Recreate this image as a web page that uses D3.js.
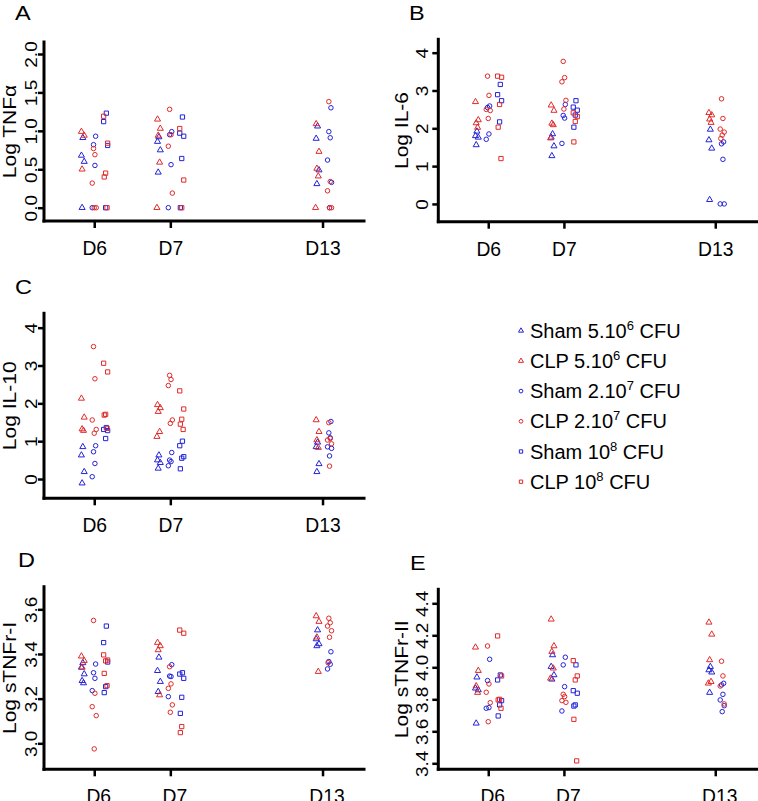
<!DOCTYPE html>
<html><head><meta charset="utf-8">
<script src="https://cdn.jsdelivr.net/npm/d3@7"></script>
<style>body{margin:0;background:#fff} svg{display:block} text{font-family:"Liberation Sans",Arial,sans-serif;fill:#000}</style>
</head><body><svg id="c" width="758" height="801"></svg>
<script>
// ---------- data ----------
const days = ["D6", "D7", "D13"];
const dayPositions = [1, 2, 4];
const groupLabels = ["Sham 5.10", "CLP 5.10", "Sham 2.10", "CLP 2.10", "Sham 10", "CLP 10"];
const groupExponents = ["6", "6", "7", "7", "8", "8"];
const groupShapes = ["triangle", "triangle", "circle", "circle", "square", "square"];
const groupSeries = ["sham", "clp", "sham", "clp", "sham", "clp"];

// order in each day: [Sham tri, CLP tri, Sham circle, CLP circle, Sham square, CLP square]
const tnfaD6 = [[0.91,0.68,0.60,0.00],[0.99,0.94,0.50],[0.93,0.82,0.55,0.00],[0.77,0.69,0.32,0.00,0.00],[1.23,1.12,0.81,0.00],[1.19,0.84,0.45,0.40,0.00]];
const tnfaD7 = [[0.92,0.86,0.75,0.46],[1.15,1.03,0.94,0.59,0.00],[0.99,0.95,0.56,0.00],[1.28,0.95,0.80,0.19],[1.18,0.97,0.93,0.64,0.00],[1.03,0.36,0.00]];
const tnfaD13 = [[1.06,0.90,0.49,0.31],[1.09,0.73,0.51,0.41,0.00],[1.30,0.99,0.91,0.62,0.33,0.00],[1.38,0.34,0.22,0.00,0.00],[],[]];

const il6D6 = [[1.92,1.80,1.76,1.56],[2.70,2.22,2.14,2.02],[2.59,2.55,1.85,1.71],[3.38,2.87,2.50,2.47,2.26],[3.16,2.89,2.73,2.17],[3.38,3.35,2.63,2.03,1.20]];
const il6D7 = [[1.85,1.76,1.53,1.27],[2.61,2.47,2.13,2.09,1.74],[2.63,2.34,2.27,1.60],[3.77,3.34,3.23,2.74,2.51],[2.73,2.56,2.48,2.35,2.03],[2.41,2.31,2.18,1.64]];
const il6D13 = [[1.97,1.69,1.47,0.11],[2.41,2.35,2.24,2.15],[1.64,1.59,1.18,0.00,0.00],[2.78,2.26,1.98,1.90,1.82,1.73],[],[]];

const il10D6 = [[0.85,0.63,0.19,-0.11],[2.13,1.63,1.32,1.28],[0.88,0.72,0.41,0.06],[3.50,2.65,1.56,1.31,1.21],[1.36,1.31,1.28,1.07],[3.06,2.83,1.71,1.69,1.34]];
const il10D7 = [[0.63,0.50,0.43,0.28],[1.96,1.88,1.78,1.25,1.12],[0.70,0.50,0.46,0.35],[2.74,2.63,2.47,1.56,1.47],[1.00,0.88,0.59,0.55,0.27],[2.33,1.85,1.58,1.45,1.31]];
const il10D13 = [[0.97,0.85,0.40,0.19],[1.56,1.25,1.03,0.83],[1.52,1.22,1.09,0.85,0.81,0.61],[1.49,1.07,1.03,0.93,0.34],[],[]];

const stnfr1D6 = [[3.36,3.34,3.31,3.28,3.27],[3.39,3.37,3.34],[3.355,3.316,3.291,3.236],[3.55,3.224,3.164,3.124,2.975],[3.525,3.451,3.364,3.254,3.227],[3.396,3.373,3.369,3.313,3.258]];
const stnfr1D7 = [[3.385,3.325,3.276,3.231],[3.451,3.436,3.418,3.216],[3.352,3.301,3.299,3.209],[3.343,3.266,3.246,3.172,3.139],[3.316,3.310,3.291,3.206,3.134],[3.507,3.493,3.075,3.048]];
const stnfr1D13 = [[3.507,3.467,3.445,3.436],[3.570,3.545,3.475,3.321],[3.410,3.366,3.354,3.333],[3.560,3.540,3.525,3.504,3.475,3.361],[],[]];

const stnfr2D6 = [[3.938,3.869,3.858,3.650],[4.125,3.979,3.883,3.842],[4.050,3.917,3.748,3.744],[4.133,3.896,3.844,3.779,3.660],[3.952,3.921,3.792,3.765,3.696],[4.196,3.946,3.800,3.796,3.744]];
const stnfr2D7 = [[4.077,4.004,3.952,3.925],[4.300,4.133,4.098,3.994,3.931],[4.063,4.015,3.879,3.727],[3.831,3.817,3.792,3.781],[4.015,3.854,3.838,3.765,3.758],[4.042,3.946,3.921,3.675,3.415]];
const stnfr2D13 = [[4.004,3.983,3.969,3.842],[4.281,4.206,4.046,3.910,3.900],[3.900,3.890,3.831,3.796,3.760,3.723],[4.038,3.946,3.883,3.771],[],[]];

const ticksA = [0, 0.5, 1, 1.5, 2];
const ticksB = [0, 1, 2, 3, 4];
const ticksC = [0, 1, 2, 3, 4];
const ticksD = [3.0, 3.2, 3.4, 3.6];
const ticksE = [3.4, 3.6, 3.8, 4.0, 4.2, 4.4];

// ---------- styles / layout ----------
const colors = {sham: "#2323d8", clp: "#e02a2a"};
const fullOffsets = [-0.15, 0, 0.15];     // tri, circle, square (D6, D7)
const d13Offsets = [-0.065, 0.092];        // tri, circle (D13)
const jitterPx = [0, -1.4, 1.4, -0.7, 0.7, -2, 2];
const xDomain = [0.34, 4.545];
const hs = 0.9; // horizontal squeeze of the original figure's text

const panels = [
  {letter:"A", title:"Log TNFα", data:[tnfaD6,tnfaD7,tnfaD13], ticks:ticksA, fmt:d3.format(".1f"),
   x0:44, x1:364, yTop:42, yBot:221, dom:[-0.173, 2.156], lx:15, ly:20, tl:7.5, ttl:28, xs:0},
  {letter:"B", title:"Log IL-6", data:[il6D6,il6D7,il6D13], ticks:ticksB, fmt:d3.format("d"),
   x0:438.3, x1:756.5, yTop:39.3, yBot:221.7, dom:[-0.47, 4.354], lx:409, ly:20, tl:10, ttl:30, xs:0},
  {letter:"C", title:"Log IL-10", data:[il10D6,il10D7,il10D13], ticks:ticksC, fmt:d3.format("d"),
   x0:44, x1:364, yTop:313.3, yBot:498.3, dom:[-0.51, 4.38], lx:15, ly:294, tl:7.5, ttl:28, xs:0},
  {letter:"D", title:"Log sTNFr-I", data:[stnfr1D6,stnfr1D7,stnfr1D13], ticks:ticksD, fmt:d3.format(".1f"),
   x0:44, x1:364, yTop:586.7, yBot:769.3, dom:[2.8836, 3.7013], lx:18, ly:567, tl:7.5, ttl:28, xs:4},
  {letter:"E", title:"Log sTNFr-II", data:[stnfr2D6,stnfr2D7,stnfr2D13], ticks:ticksE, fmt:d3.format(".1f"),
   x0:438.3, x1:756.5, yTop:589.3, yBot:769.3, dom:[3.3625, 4.4875], lx:410, ly:570, tl:10, ttl:30, xs:4}
];

const svg = d3.select("#c");
const symbolTypes = {triangle: d3.symbolTriangle, circle: d3.symbolCircle, square: d3.symbolSquare};
const symbolSizes = {triangle: 16, circle: 16, square: 18};

panels.forEach(p => {
  const x = d3.scaleLinear().domain(xDomain).range([p.x0, p.x1]);
  const y = d3.scaleLinear().domain(p.dom).range([p.yBot, p.yTop]);
  const g = svg.append("g");

  // panel letter
  g.append("text").attr("transform", `translate(${p.lx},${p.ly}) scale(1.12,1)`)
    .attr("font-size", 21).text(p.letter);

  // y axis
  const ya = g.append("g").attr("transform", `translate(${p.x0},0)`)
    .call(d3.axisLeft(y).tickValues(p.ticks).tickFormat(p.fmt).tickSize(6).tickSizeOuter(0));
  ya.select(".domain").attr("stroke-width", 3).attr("stroke-linecap", "square")
    .attr("d", `M0,${p.yTop}V${p.yBot}`);
  ya.selectAll(".tick line").attr("stroke-width", 2.5);
  ya.selectAll(".tick text").attr("transform", `rotate(-90) scale(1,${hs * 0.96})`).attr("x", 0)
    .attr("y", -p.tl / (hs * 0.96)).attr("dy", 0).attr("text-anchor", "middle").attr("font-size", 19)
    .attr("font-family", "Liberation Sans, Arial, sans-serif").attr("fill", "#000");

  // x axis
  const xa = g.append("g").attr("transform", `translate(0,${p.yBot})`)
    .call(d3.axisBottom(x).tickValues(dayPositions).tickFormat((d, i) => days[i]).tickSize(7).tickSizeOuter(0));
  xa.select(".domain").attr("stroke-width", 3).attr("stroke-linecap", "square")
    .attr("d", `M${p.x0},0H${p.x1}`);
  xa.selectAll(".tick line").attr("stroke-width", 2.5);
  xa.selectAll(".tick text").attr("x", 0).attr("y", 0).attr("dy", 0)
    .attr("transform", `translate(${p.xs},34) scale(${hs + 0.02},1)`).attr("font-size", 21)
    .attr("font-family", "Liberation Sans, Arial, sans-serif").attr("fill", "#000");

  // y title
  g.append("text")
    .attr("transform", `translate(${p.x0 - p.ttl},${(p.yTop + p.yBot) / 2}) rotate(-90) scale(1,${hs})`)
    .attr("text-anchor", "middle").attr("font-size", 21).text(p.title);

  // points
  p.data.forEach((dayGroups, di) => {
    dayGroups.forEach((vals, gi) => {
      const shape = groupShapes[gi];
      const slot = Math.floor(gi / 2);
      const off = di === 2 ? d13Offsets[slot] : fullOffsets[slot];
      vals.forEach((v, k) => {
        const cx = x(dayPositions[di] + off) + jitterPx[(k + gi) % jitterPx.length];
        g.append("path")
          .attr("d", d3.symbol(symbolTypes[shape], symbolSizes[shape])())
          .attr("transform", `translate(${cx},${y(v)})`)
          .attr("fill", "none").attr("stroke", colors[groupSeries[gi]]).attr("stroke-width", 1);
      });
    });
  });
});

// legend
const legendY = d3.scaleLinear().domain([0, 5]).range([330.7, 481.7]);
groupLabels.forEach((lab, i) => {
  const cy = legendY(i);
  const shape = groupShapes[i];
  svg.append("path")
    .attr("d", d3.symbol(symbolTypes[shape], 11)())
    .attr("transform", `translate(521,${cy})`)
    .attr("fill", "none").attr("stroke", colors[groupSeries[i]]).attr("stroke-width", 1);
  const t = svg.append("text").attr("x", 530).attr("y", cy + 7).attr("font-size", 20);
  t.append("tspan").text(lab);
  t.append("tspan").attr("font-size", 13).attr("dy", -8).text(groupExponents[i]);
  t.append("tspan").attr("dy", 8).text(" CFU");
});
</script>
</body></html>
